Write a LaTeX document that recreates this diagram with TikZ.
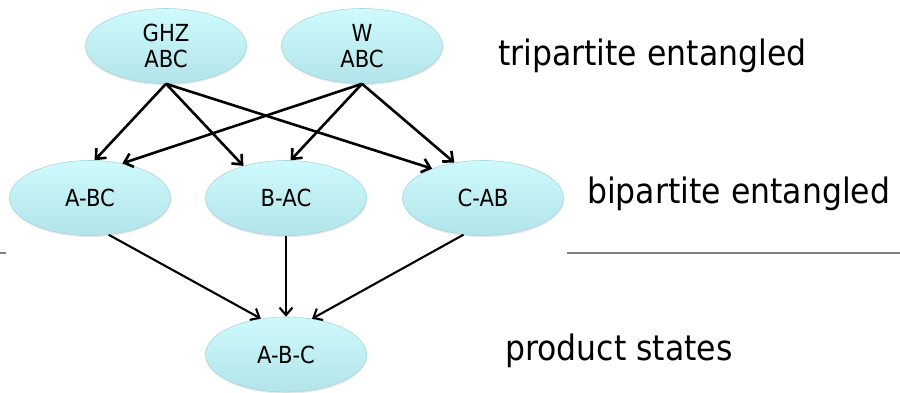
\documentclass[tikz,border=0pt]{standalone}
\usepackage{fontspec}
\setmainfont{DejaVu Sans}[FakeStretch=0.9]
\usetikzlibrary{shapes.geometric,arrows.meta,shadows}
\definecolor{topcyan}{RGB}{206,250,252}
\definecolor{botcyan}{RGB}{178,228,234}
\definecolor{edgecyan}{RGB}{168,214,220}
\definecolor{rulegray}{RGB}{128,128,128}
\tikzset{
  state/.style={ellipse, minimum width=161pt, minimum height=75pt, inner sep=0pt,
    top color=topcyan, bottom color=botcyan, draw=edgecyan, line width=0.6pt,
    drop shadow={opacity=0.18, shadow xshift=0.6pt, shadow yshift=-1.6pt},
    align=center, font=\fontsize{23.5}{26}\selectfont},
  toparrow/.style={line width=2.6pt, -{Straight Barb[length=8pt,width=14pt]}},
  lowarrow/.style={line width=2.1pt, -{Straight Barb[length=7.5pt,width=13pt]}},
  levellabel/.style={anchor=base west, inner sep=0pt, font=\fontsize{35}{40}\selectfont},
  divider/.style={draw=rulegray, line width=1.8pt}
}
\begin{document}
\begin{tikzpicture}[x=1pt, y=-1pt]
\useasboundingbox (0,0) rectangle (900,392);
\node[state] (ghz) at (166,46) {GHZ\\ABC};
\node[state] (w) at (362,46) {W\\ABC};
\node[state] (abc1) at (90,198) {A-BC};
\node[state] (bac) at (286,198) {B-AC};
\node[state] (cab) at (483,198) {C-AB};
\node[state] (prod) at (286,354.5) {A-B-C};

\coordinate (lstubA) at (0,253);
\coordinate (lstubB) at (6,253);
\coordinate (rlineA) at (567,253);
\coordinate (rlineB) at (900,253);
\path[divider] (lstubA) -- (lstubB);
\path[divider] (rlineA) -- (rlineB);

\draw[toparrow] (ghz.south) -- (abc1.83);
\draw[toparrow] (ghz.south) -- (bac.143);
\draw[toparrow] (ghz.south) -- (cab.150);
\draw[toparrow] (w.south) -- (abc1.47);
\draw[toparrow] (w.south) -- (bac.83);
\draw[toparrow] (w.south) -- (cab.129);

\draw[lowarrow] (abc1.297) -- (prod.125);
\draw[lowarrow] (bac.south) -- (prod.north);
\draw[lowarrow] (cab.242) -- (prod.54);

\node[levellabel] (tri) at (498,65) {tripartite entangled};
\node[levellabel] (bi) at (587,203) {bipartite entangled};
\node[levellabel] (pr) at (505,360) {product states};
\end{tikzpicture}
\end{document}
